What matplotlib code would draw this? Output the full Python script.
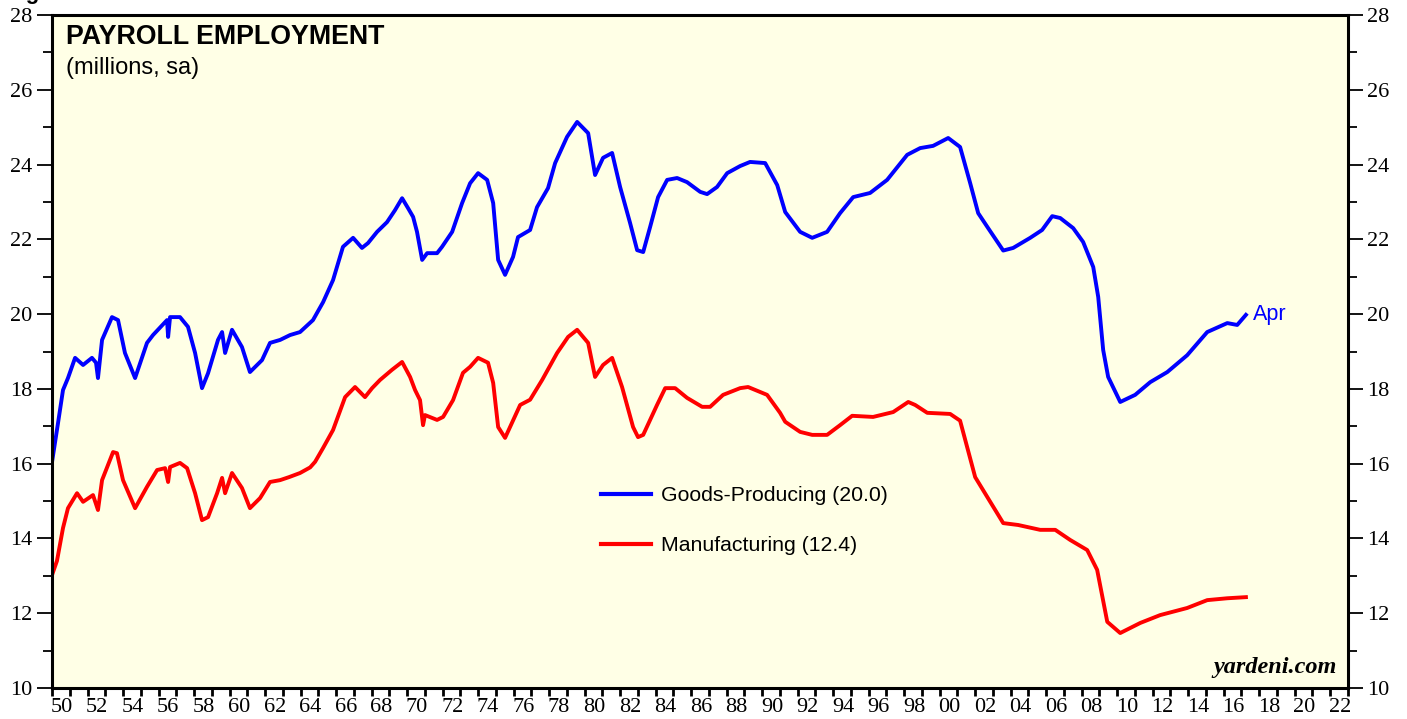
import matplotlib
matplotlib.use("Agg")
import matplotlib.pyplot as plt
from matplotlib.ticker import MultipleLocator, FixedLocator, FixedFormatter

# goods-producing payroll employment, millions
goods_years = [1950.00, 1950.34, 1950.62, 1950.90, 1951.30, 1951.75, 1952.25, 1952.48, 1952.59, 1952.82,
               1953.38, 1953.72, 1954.11, 1954.68, 1955.35, 1955.69, 1956.48, 1956.54, 1956.65, 1957.21,
               1957.66, 1958.06, 1958.45, 1958.79, 1959.35, 1959.58, 1959.75, 1960.14, 1960.70, 1961.15,
               1961.83, 1962.28, 1962.85, 1963.41, 1963.97, 1964.70, 1965.27, 1965.83, 1966.39, 1966.96,
               1967.46, 1967.80, 1968.31, 1968.87, 1969.32, 1969.72, 1970.06, 1970.34, 1970.56, 1970.85,
               1971.13, 1971.69, 1971.97, 1972.54, 1973.10, 1973.55, 1974.00, 1974.51, 1974.85, 1975.13,
               1975.52, 1975.97, 1976.25, 1976.93, 1977.32, 1977.94, 1978.34, 1979.01, 1979.58, 1980.20,
               1980.59, 1981.04, 1981.55, 1982.00, 1982.56, 1982.96, 1983.30, 1983.69, 1984.14, 1984.65,
               1985.21, 1985.77, 1986.51, 1986.90, 1987.46, 1988.03, 1988.76, 1989.32, 1990.17, 1990.85,
               1991.30, 1992.14, 1992.82, 1993.66, 1994.39, 1995.13, 1996.08, 1997.04, 1998.17, 1998.90,
               1999.63, 2000.48, 2001.15, 2001.72, 2002.17, 2002.73, 2003.58, 2004.14, 2005.10, 2005.77,
               2006.34, 2006.79, 2007.52, 2008.08, 2008.65, 2008.93, 2009.21, 2009.49, 2010.17, 2011.01,
               2011.86, 2012.82, 2013.94, 2015.07, 2016.20, 2016.76, 2017.25]
goods = [16.04, 17.09, 17.97, 18.29, 18.83, 18.64, 18.83, 18.70, 18.29, 19.31,
         19.92, 19.84, 18.96, 18.29, 19.23, 19.44, 19.84, 19.39, 19.92, 19.92,
         19.66, 18.96, 18.02, 18.42, 19.31, 19.52, 18.96, 19.58, 19.12, 18.45,
         18.77, 19.23, 19.31, 19.44, 19.52, 19.84, 20.32, 20.91, 21.80, 22.04,
         21.77, 21.90, 22.20, 22.46, 22.78, 23.10, 22.83, 22.60, 22.20, 21.45,
         21.63, 21.63, 21.80, 22.20, 22.97, 23.50, 23.77, 23.59, 22.97, 21.45,
         21.05, 21.53, 22.06, 22.25, 22.86, 23.37, 24.04, 24.74, 25.14, 24.84,
         23.72, 24.18, 24.31, 23.40, 22.44, 21.71, 21.66, 22.33, 23.13, 23.59,
         23.64, 23.53, 23.27, 23.21, 23.40, 23.77, 23.96, 24.07, 24.04, 23.45,
         22.73, 22.20, 22.04, 22.20, 22.70, 23.13, 23.24, 23.59, 24.26, 24.44,
         24.50, 24.71, 24.47, 23.50, 22.70, 22.30, 21.70, 21.77, 22.04, 22.25,
         22.62, 22.57, 22.30, 21.93, 21.26, 20.46, 19.04, 18.32, 17.65, 17.84,
         18.18, 18.45, 18.90, 19.52, 19.76, 19.71, 19.98]

# manufacturing payroll employment, millions
mfg_years = [1950.00, 1950.28, 1950.62, 1950.90, 1951.41, 1951.75, 1952.31, 1952.59, 1952.82, 1953.44,
             1953.66, 1954.00, 1954.68, 1955.35, 1955.92, 1956.37, 1956.54, 1956.65, 1957.21, 1957.61,
             1958.06, 1958.45, 1958.79, 1959.30, 1959.58, 1959.75, 1960.14, 1960.70, 1961.15, 1961.72,
             1962.28, 1962.85, 1963.35, 1963.97, 1964.54, 1964.82, 1965.27, 1965.83, 1966.51, 1967.07,
             1967.63, 1968.03, 1968.48, 1969.15, 1969.72, 1970.17, 1970.45, 1970.73, 1970.90, 1971.01,
             1971.69, 1972.03, 1972.59, 1973.15, 1973.55, 1974.00, 1974.56, 1974.85, 1975.13, 1975.52,
             1976.37, 1976.93, 1977.61, 1978.45, 1979.07, 1979.58, 1980.20, 1980.59, 1981.04, 1981.55,
             1982.11, 1982.73, 1983.01, 1983.30, 1984.08, 1984.54, 1985.10, 1985.77, 1986.62, 1987.07,
             1987.80, 1988.76, 1989.21, 1990.28, 1991.01, 1991.30, 1992.14, 1992.82, 1993.66, 1994.39,
             1995.07, 1996.25, 1997.38, 1998.23, 1998.62, 1999.30, 2000.59, 2001.15, 2002.00, 2002.68,
             2003.58, 2004.42, 2005.66, 2006.51, 2007.35, 2008.31, 2008.87, 2009.44, 2010.17, 2011.30,
             2012.42, 2013.94, 2015.07, 2016.20, 2017.25]
mfg = [13.02, 13.40, 14.28, 14.81, 15.21, 14.98, 15.16, 14.76, 15.56, 16.31,
       16.28, 15.56, 14.81, 15.38, 15.83, 15.88, 15.51, 15.91, 16.02, 15.88,
       15.21, 14.49, 14.57, 15.21, 15.62, 15.21, 15.75, 15.35, 14.81, 15.08,
       15.51, 15.56, 15.64, 15.75, 15.90, 16.05, 16.42, 16.90, 17.78, 18.05,
       17.78, 18.02, 18.24, 18.51, 18.72, 18.32, 17.97, 17.70, 17.03, 17.30,
       17.17, 17.25, 17.70, 18.43, 18.59, 18.83, 18.70, 18.16, 16.98, 16.69,
       17.57, 17.71, 18.24, 18.96, 19.39, 19.58, 19.23, 18.32, 18.64, 18.83,
       18.05, 16.98, 16.71, 16.77, 17.57, 18.02, 18.02, 17.76, 17.52, 17.52,
       17.84, 18.02, 18.05, 17.84, 17.36, 17.12, 16.85, 16.77, 16.77, 17.03,
       17.28, 17.25, 17.38, 17.65, 17.57, 17.36, 17.33, 17.15, 15.64, 15.11,
       14.41, 14.36, 14.23, 14.23, 13.96, 13.69, 13.16, 11.77, 11.47, 11.74,
       11.95, 12.14, 12.35, 12.40, 12.43]

year_labels = ["%02d" % (y % 100) for y in range(1950, 2023, 2)]

fig = plt.figure(figsize=(14.07, 7.19), dpi=100)
ax = fig.add_axes([52 / 1407, 1 - 688 / 719, 1296 / 1407, 673 / 719])
ax.set_facecolor("#FFFFE6")

ax.plot(goods_years, goods, color="#0000FF", lw=2.8, label="Goods-Producing (20.0)")
ax.plot(mfg_years, mfg, color="#FF0000", lw=2.8, label="Manufacturing (12.4)")

ax.set_xlim(1950, 2023)
ax.set_ylim(10, 28)

serif = "Liberation Serif"
sans = "Liberation Sans"

# x axis: tick at every year, label every other year centred in the year
ax.xaxis.set_major_locator(MultipleLocator(1))
ax.xaxis.set_major_formatter(FixedFormatter([]))
ax.xaxis.set_minor_locator(FixedLocator([y + 0.55 for y in range(1950, 2023, 2)]))
ax.xaxis.set_minor_formatter(FixedFormatter(year_labels))
ax.tick_params(axis="x", which="major", direction="out", length=5.5, width=2, color="black")
ax.tick_params(axis="x", which="minor", length=0, labelsize=16, pad=7.5)

ax.yaxis.set_major_locator(MultipleLocator(2))
ax.yaxis.set_minor_locator(MultipleLocator(1))
ax.tick_params(axis="y", which="major", direction="out", length=11, width=1.3,
               left=True, right=True, labelleft=True, labelright=True, labelsize=16, pad=3)
ax.tick_params(axis="y", which="minor", direction="out", length=6.5, width=1.3, left=True, right=True)

for lab in ax.get_xticklabels(minor=True):
    lab.set_fontfamily(serif)
for t in ax.yaxis.get_major_ticks():
    t.label1.set_fontfamily(serif)
    t.label2.set_fontfamily(serif)

for s in ax.spines.values():
    s.set_linewidth(2.2)

ax.text(0.011, 0.986, "PAYROLL EMPLOYMENT", transform=ax.transAxes, fontsize=19.3,
        fontweight="bold", family=sans, va="top")
ax.text(0.011, 0.937, "(millions, sa)", transform=ax.transAxes, fontsize=17,
        family=sans, va="top")
ax.text(2017.65, goods[-1], "Apr", color="#0000FF", fontsize=15.5, family=sans, va="center")
ax.text(0.991, 0.015, "yardeni.com", transform=ax.transAxes, fontsize=17.5, family=serif,
        fontweight="bold", style="italic", ha="right", va="bottom")

# cut-off figure heading at the very top
fig.text(0.004, 1.002, "Figure 1.", fontsize=16, fontweight="bold", family=sans, va="baseline")

leg = ax.legend(loc="upper left", bbox_to_anchor=(0.409, 0.328), frameon=False,
                prop={"family": sans, "size": 15.3}, handlelength=2.35, handletextpad=0.45,
                labelspacing=1.45)
for h in leg.get_lines():
    h.set_linewidth(3)

fig.savefig("out.png", dpi=100)
